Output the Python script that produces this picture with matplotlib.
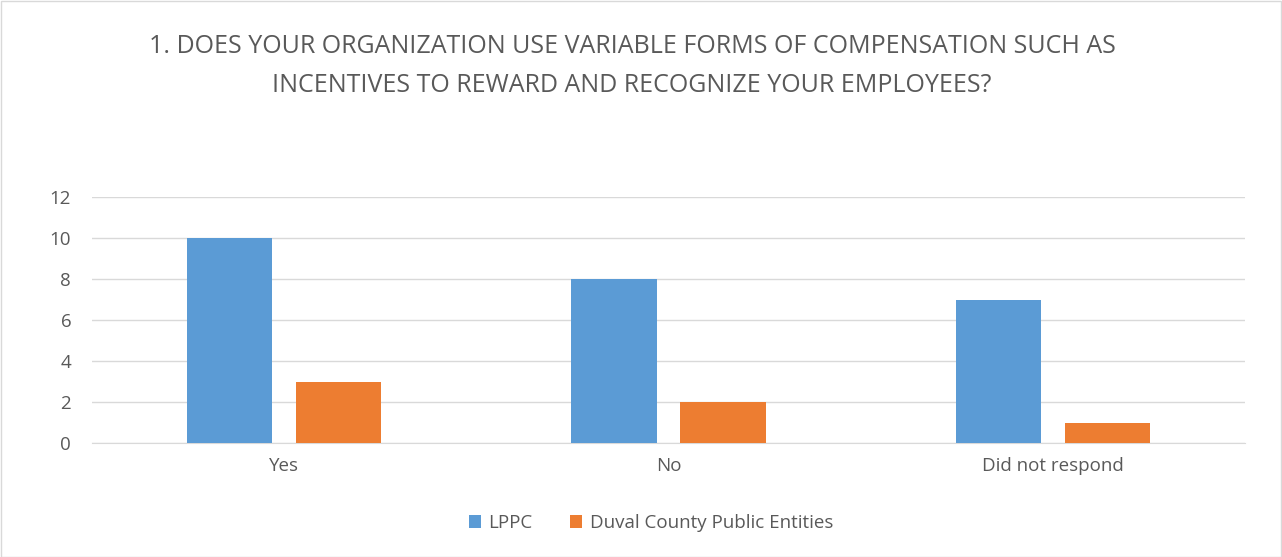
import matplotlib.pyplot as plt
import numpy as np
from matplotlib.patches import Rectangle

# chart data
categories = ["Yes", "No", "Did not respond"]
lppc = [10, 8, 7]
duval = [3, 2, 1]
series_names = ["LPPC", "Duval County Public Entities"]
title = ("1. DOES YOUR ORGANIZATION USE VARIABLE FORMS OF COMPENSATION SUCH AS\n"
         "INCENTIVES TO REWARD AND RECOGNIZE YOUR EMPLOYEES?")

BLUE = "#5B9BD5"
ORANGE = "#ED7D31"
GREY = "#595959"
GRID = "#D9D9D9"

plt.rcParams["font.family"] = ["Open Sans", "DejaVu Sans"]

W, H = 1282, 557
fig = plt.figure(figsize=(W / 100, H / 100), dpi=100)
ax = fig.add_axes([92 / W, (H - 443) / H, (1245 - 92) / W, (443 - 197) / H])

x = np.arange(len(categories))
width = 0.222
off = 0.142
ax.bar(x - off, lppc, width, color=BLUE, label=series_names[0], zorder=3)
ax.bar(x + off, duval, width, color=ORANGE, label=series_names[1], zorder=3)

ax.set_xlim(-0.5, len(categories) - 0.5)
ax.set_ylim(0, 12)
ax.set_yticks(range(0, 13, 2))
ax.set_xticks(x)
ax.set_xticklabels(categories)
ax.grid(axis="y", color=GRID, lw=1, zorder=0)
for side in ("left", "right", "top"):
    ax.spines[side].set_visible(False)
ax.spines["bottom"].set_color(GRID)
ax.tick_params(axis="both", length=0, colors=GREY, labelsize=13.5)
ax.tick_params(axis="y", pad=15)
ax.tick_params(axis="x", pad=10)

fig.text(632 / W, 1 - 66 / H, title, ha="center", va="center", fontsize=18,
         color=GREY, linespacing=1.7)

fig.legend(loc="center", bbox_to_anchor=(651 / W, 1 - 523 / H), ncol=2, frameon=False,
           fontsize=13.5, handlelength=0.65, handleheight=0.65, columnspacing=2.0,
           handletextpad=0.4, labelcolor=GREY)

fig.patches.append(Rectangle((0.5 / W, 0.5 / H), 1 - 1.5 / W, 1 - 1.5 / H,
                             transform=fig.transFigure, fill=False,
                             edgecolor=GRID, lw=1))

fig.savefig("out.png", dpi=100)
